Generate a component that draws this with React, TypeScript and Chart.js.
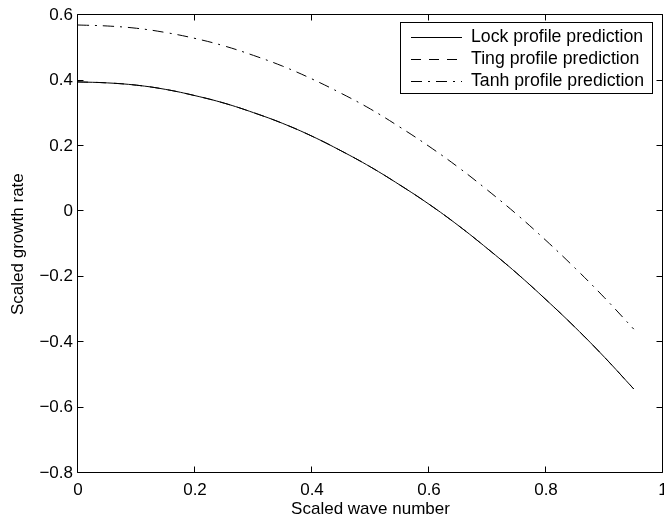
import React, { useEffect, useRef } from 'react';
import { Chart, registerables } from 'chart.js';

Chart.register(...registerables);

const waveNumbers = [0, 0.05, 0.1, 0.15, 0.2, 0.25, 0.3, 0.35, 0.4, 0.45, 0.5, 0.55, 0.6, 0.65, 0.7, 0.75, 0.8, 0.85, 0.9, 0.95];
const lockGrowth = [0.396, 0.393, 0.386, 0.373, 0.354, 0.331, 0.302, 0.269, 0.23, 0.185, 0.136, 0.081, 0.022, -0.043, -0.114, -0.189, -0.27, -0.355, -0.446, -0.543];
const tingGrowth = [0.396, 0.393, 0.386, 0.373, 0.354, 0.331, 0.302, 0.269, 0.23, 0.185, 0.136, 0.081, 0.022, -0.043, -0.114, -0.189, -0.27, -0.355, -0.446, -0.543];
const tanhGrowth = [0.57, 0.567, 0.56, 0.547, 0.529, 0.506, 0.477, 0.444, 0.405, 0.361, 0.313, 0.258, 0.199, 0.135, 0.065, -0.009, -0.089, -0.174, -0.264, -0.36];
const seriesLabels = ['Lock profile prediction', 'Ting profile prediction', 'Tanh profile prediction'];
const xTickValues = [0, 0.2, 0.4, 0.6, 0.8, 1];
const yTickValues = [-0.8, -0.6, -0.4, -0.2, 0, 0.2, 0.4, 0.6];
const xTitle = 'Scaled wave number';
const yTitle = 'Scaled growth rate';

const FONT = '"Liberation Sans", Arial, Helvetica, sans-serif';
const FS = 17;

const fmt = (v: number) => {
  const r = Math.round(v * 10) / 10;
  if (r === 0) return '0';
  return r < 0 ? '\u2212' + String(-r) : String(r);
};

const toPoints = (ys: number[]) => ys.map((y, i) => ({ x: waveNumbers[i], y }));

const framePlugin = {
  id: 'matlabFrame',
  afterDraw(chart: any) {
    const { ctx, chartArea: a, scales } = chart;
    const L = Math.round(a.left) - 0.5;
    const R = Math.round(a.right) - 0.5;
    const T = Math.round(a.top) - 0.5;
    const B = Math.round(a.bottom) - 0.5;
    ctx.save();
    ctx.strokeStyle = '#000';
    ctx.lineWidth = 1;
    ctx.setLineDash([]);
    ctx.beginPath();
    ctx.rect(L, T, R - L, B - T);
    ctx.stroke();
    const tl = 6;
    ctx.beginPath();
    xTickValues.forEach((v) => {
      const px = Math.round(scales.x.getPixelForValue(v)) - 0.5;
      ctx.moveTo(px, B);
      ctx.lineTo(px, B - tl);
      ctx.moveTo(px, T);
      ctx.lineTo(px, T + tl);
    });
    yTickValues.forEach((v) => {
      const py = Math.round(scales.y.getPixelForValue(v)) - 0.5;
      ctx.moveTo(L, py);
      ctx.lineTo(L + tl, py);
      ctx.moveTo(R, py);
      ctx.lineTo(R - tl, py);
    });
    ctx.stroke();

    // legend box
    const bx = 400.5, by = 22.5, bw = 252, bh = 71;
    ctx.fillStyle = '#fff';
    ctx.fillRect(bx, by, bw, bh);
    ctx.strokeRect(bx, by, bw, bh);
    ctx.font = '17.7px ' + FONT;
    ctx.textBaseline = 'middle';
    ctx.textAlign = 'left';
    ctx.fillStyle = '#000';
    const rows = [36.5, 58.5, 80.5];
    chart.data.datasets.forEach((ds: any, i: number) => {
      const y = Math.round(rows[i]) + 0.5;
      ctx.setLineDash(ds.borderDash || []);
      ctx.beginPath();
      ctx.moveTo(411, y);
      ctx.lineTo(462, y);
      ctx.stroke();
      ctx.setLineDash([]);
      ctx.fillText(ds.label, 471, rows[i] + 0.5);
    });
    ctx.restore();
  },
};

export default function App() {
  const ref = useRef<HTMLCanvasElement | null>(null);
  useEffect(() => {
    if (!ref.current) return;
    const chart = new Chart(ref.current, {
      type: 'line',
      data: {
        datasets: [
          { label: seriesLabels[0], data: toPoints(lockGrowth), borderColor: '#000', borderWidth: 1, borderDash: [], pointRadius: 0, tension: 0.4, fill: false },
          { label: seriesLabels[1], data: toPoints(tingGrowth), borderColor: '#000', borderWidth: 1, borderDash: [10, 8], pointRadius: 0, tension: 0.4, fill: false },
          { label: seriesLabels[2], data: toPoints(tanhGrowth), borderColor: '#000', borderWidth: 1, borderDash: [11, 6, 2, 6], pointRadius: 0, tension: 0.4, fill: false },
        ],
      },
      options: {
        animation: false,
        responsive: false,
        devicePixelRatio: 1,
        layout: { padding: { left: 0, top: 13, right: 27, bottom: 0 } },
        plugins: { legend: { display: false }, tooltip: { enabled: false } },
        scales: {
          x: {
            type: 'linear',
            min: 0,
            max: 1,
            grid: { display: false, drawTicks: false },
            border: { display: false },
            afterBuildTicks: (s: any) => { s.ticks = xTickValues.map((v) => ({ value: v })); },
            afterFit: (s: any) => { s.height = 52; },
            ticks: { color: '#000', font: { family: FONT, size: FS }, padding: 7, maxRotation: 0, autoSkip: false, callback: (v: any) => fmt(Number(v)) },
            title: { display: true, text: xTitle, color: '#000', font: { family: FONT, size: FS }, padding: { top: 0, bottom: 5 } },
          },
          y: {
            type: 'linear',
            min: -0.8,
            max: 0.6,
            grid: { display: false, drawTicks: false },
            border: { display: false },
            afterBuildTicks: (s: any) => { s.ticks = yTickValues.map((v) => ({ value: v })); },
            afterFit: (s: any) => { s.width = 78; },
            ticks: { color: '#000', font: { family: FONT, size: FS }, padding: 5, autoSkip: false, callback: (v: any) => fmt(Number(v)) },
            title: { display: true, text: yTitle, color: '#000', font: { family: FONT, size: FS }, padding: { top: 8, bottom: 0 } },
          },
        },
      },
      plugins: [framePlugin],
    });
    return () => chart.destroy();
  }, []);
  return (
    <div style={{ position: 'fixed', left: 0, top: 0, width: 664, height: 525, overflow: 'hidden', background: '#fff' }}>
      <canvas ref={ref} width={690} height={525} style={{ display: 'block', width: 690, height: 525 }} />
    </div>
  );
}
